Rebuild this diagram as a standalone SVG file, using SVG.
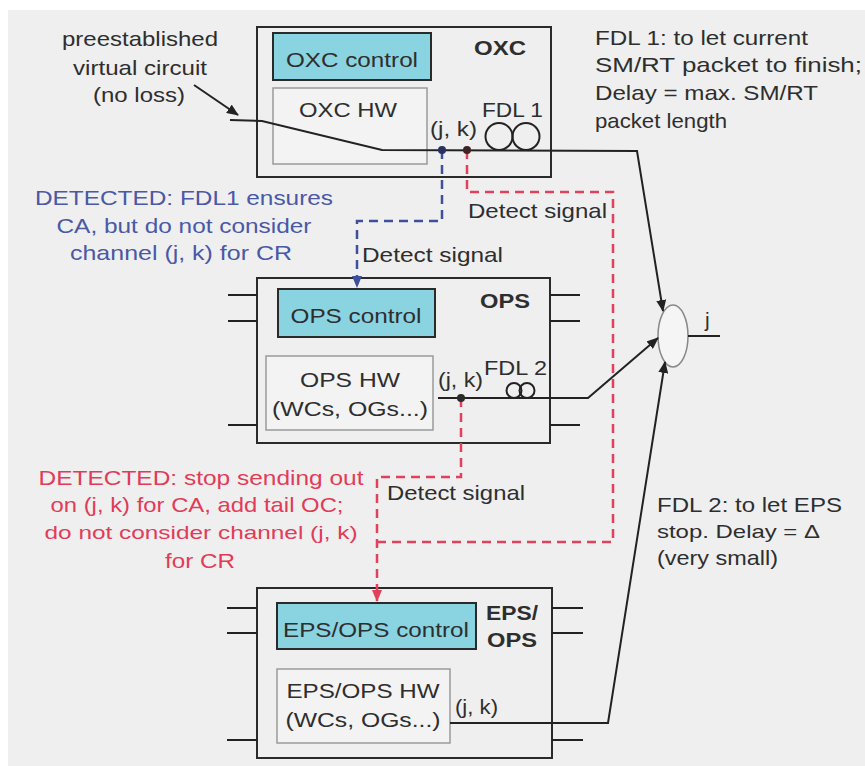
<svg xmlns="http://www.w3.org/2000/svg" width="865" height="766" viewBox="0 0 865 766">
<defs>
<style>
text{font-family:"Liberation Sans",Arial,sans-serif;font-size:21px;fill:#2e2e2e}
.c{text-anchor:middle}
.b{font-weight:bold}
.blue{fill:#4a58a6}
.red{fill:#e23b58}
.box{fill:none;stroke:#2a2a2a;stroke-width:2}
.ctl{fill:#8ad3e1;stroke:#2a2a2a;stroke-width:2}
.hw{fill:#f3f3f3;stroke:#9a9a9a;stroke-width:1.5}
.ln{fill:none;stroke:#222;stroke-width:2}
.db{fill:none;stroke:#3f4f9c;stroke-width:2.5;stroke-dasharray:9 6}
.dr{fill:none;stroke:#e2415c;stroke-width:2.5;stroke-dasharray:9 6}
</style>
<marker id="ak" markerWidth="12" markerHeight="10" refX="11" refY="5" orient="auto" markerUnits="userSpaceOnUse"><path d="M0,0 L12,5 L0,10 z" fill="#222"/></marker>
<marker id="ab" markerWidth="12" markerHeight="10" refX="11" refY="5" orient="auto" markerUnits="userSpaceOnUse"><path d="M0,0 L12,5 L0,10 z" fill="#3f4f9c"/></marker>
<marker id="ar" markerWidth="12" markerHeight="10" refX="11" refY="5" orient="auto" markerUnits="userSpaceOnUse"><path d="M0,0 L12,5 L0,10 z" fill="#e2415c"/></marker>
</defs>
<rect x="0" y="0" width="865" height="766" fill="#ffffff"/>
<rect x="8" y="10" width="857" height="756" fill="#efefef"/>

<g id="oxc">
<rect class="box" x="257" y="27" width="294" height="150"/>
<rect class="ctl" x="273" y="33" width="158" height="47"/>
<text class="c" x="352" y="67" textLength="132" lengthAdjust="spacingAndGlyphs">OXC control</text>
<text class="c b" x="500" y="55" textLength="52" lengthAdjust="spacingAndGlyphs">OXC</text>
<rect class="hw" x="273" y="88" width="154" height="76"/>
<text class="c" x="348" y="117" textLength="98" lengthAdjust="spacingAndGlyphs">OXC HW</text>
<text x="482" y="117" textLength="61" lengthAdjust="spacingAndGlyphs">FDL 1</text>
<text x="430" y="136" textLength="47" lengthAdjust="spacingAndGlyphs">(j, k)</text>
<circle cx="499" cy="136.5" r="13.5" fill="none" stroke="#222" stroke-width="2"/>
<circle cx="526" cy="136.5" r="13.5" fill="none" stroke="#222" stroke-width="2"/>
</g>

<g id="ops">
<rect class="box" x="257" y="278" width="293" height="165"/>
<rect class="ctl" x="278" y="289" width="157" height="48"/>
<text class="c" x="356" y="323" textLength="131" lengthAdjust="spacingAndGlyphs">OPS control</text>
<text class="c b" x="505" y="308" textLength="50" lengthAdjust="spacingAndGlyphs">OPS</text>
<rect class="hw" x="266" y="356" width="167" height="74"/>
<text class="c" x="350" y="387" textLength="100" lengthAdjust="spacingAndGlyphs">OPS HW</text>
<text class="c" x="350" y="416" textLength="156" lengthAdjust="spacingAndGlyphs">(WCs, OGs...)</text>
<text x="438" y="387" textLength="45" lengthAdjust="spacingAndGlyphs">(j, k)</text>
<text x="484" y="375" textLength="63" lengthAdjust="spacingAndGlyphs">FDL 2</text>
<circle cx="514" cy="390.5" r="7.5" fill="none" stroke="#222" stroke-width="2"/>
<circle cx="527" cy="390.5" r="7.5" fill="none" stroke="#222" stroke-width="2"/>
<path class="ln" d="M228,295 H257 M228,321 H257 M228,425 H257 M550,295 H580 M550,321 H580 M550,425 H580"/>
</g>

<g id="eps">
<rect class="box" x="257" y="588" width="295" height="170"/>
<rect class="ctl" x="277" y="603" width="199" height="46"/>
<text class="c" x="376" y="637" textLength="186" lengthAdjust="spacingAndGlyphs">EPS/OPS control</text>
<text class="c b" x="512" y="620" textLength="52" lengthAdjust="spacingAndGlyphs">EPS/</text>
<text class="c b" x="512" y="647" textLength="50" lengthAdjust="spacingAndGlyphs">OPS</text>
<rect class="hw" x="277" y="669" width="173" height="74"/>
<text class="c" x="363" y="698" textLength="153" lengthAdjust="spacingAndGlyphs">EPS/OPS HW</text>
<text class="c" x="363" y="727" textLength="155" lengthAdjust="spacingAndGlyphs">(WCs, OGs...)</text>
<text x="455" y="714" textLength="43" lengthAdjust="spacingAndGlyphs">(j, k)</text>
<path class="ln" d="M227,608 H257 M227,633 H257 M227,740 H257 M552,608 H583 M552,633 H583 M552,740 H583"/>
</g>

<g id="combiner">
<ellipse cx="673" cy="336" rx="15" ry="31" fill="#f5f5f5" stroke="#888" stroke-width="1.5"/>
<path class="ln" d="M688,336 H720"/>
<text x="705" y="327">j</text>
</g>

<g id="notes">
<text class="c" x="140" y="46" textLength="156" lengthAdjust="spacingAndGlyphs">preestablished</text>
<text class="c" x="140" y="75" textLength="134" lengthAdjust="spacingAndGlyphs">virtual circuit</text>
<text class="c" x="139" y="102" textLength="92" lengthAdjust="spacingAndGlyphs">(no loss)</text>
<text x="595" y="45" textLength="213" lengthAdjust="spacingAndGlyphs">FDL 1: to let current</text>
<text x="595" y="72" textLength="267" lengthAdjust="spacingAndGlyphs">SM/RT packet to finish;</text>
<text x="595" y="100" textLength="223" lengthAdjust="spacingAndGlyphs">Delay = max. SM/RT</text>
<text x="595" y="128" textLength="132" lengthAdjust="spacingAndGlyphs">packet length</text>
<text class="c blue" x="184" y="205" textLength="298" lengthAdjust="spacingAndGlyphs">DETECTED: FDL1 ensures</text>
<text class="c blue" x="184" y="233" textLength="255" lengthAdjust="spacingAndGlyphs">CA, but do not consider</text>
<text class="c blue" x="181" y="260" textLength="222" lengthAdjust="spacingAndGlyphs">channel (j, k) for CR</text>
<text x="468" y="218" textLength="139" lengthAdjust="spacingAndGlyphs">Detect signal</text>
<text x="362" y="262" textLength="141" lengthAdjust="spacingAndGlyphs">Detect signal</text>
<text x="387" y="500" textLength="138" lengthAdjust="spacingAndGlyphs">Detect signal</text>
<text class="c red" x="201" y="485" textLength="325" lengthAdjust="spacingAndGlyphs">DETECTED: stop sending out</text>
<text class="c red" x="197" y="512" textLength="293" lengthAdjust="spacingAndGlyphs">on (j, k) for CA, add tail OC;</text>
<text class="c red" x="201" y="539" style="font-size:19px" textLength="313" lengthAdjust="spacingAndGlyphs">do not consider channel (j, k)</text>
<text class="c red" x="200" y="568" textLength="70" lengthAdjust="spacingAndGlyphs">for CR</text>
<text x="657" y="512" textLength="185" lengthAdjust="spacingAndGlyphs">FDL 2: to let EPS</text>
<text x="657" y="538" style="font-size:19px" textLength="163" lengthAdjust="spacingAndGlyphs">stop. Delay = Δ</text>
<text x="657" y="565" textLength="121" lengthAdjust="spacingAndGlyphs">(very small)</text>
</g>

<g id="connectors">
<path class="ln" d="M194,85 L238,115" marker-end="url(#ak)"/>
<path class="ln" d="M230,120 L262,121 L382,150 L637,151 L663,311" marker-end="url(#ak)"/>
<path class="ln" d="M438,398 L588,398 L658,338" marker-end="url(#ak)"/>
<path class="ln" d="M450,723 L608,723 L665,362" marker-end="url(#ak)"/>
<path class="db" d="M442,150 V221 H357 V287" marker-end="url(#ab)"/>
<path class="dr" d="M467,150 V192 H613 V542 H377"/>
<path class="dr" d="M461,398 V477 H377 V601" marker-end="url(#ar)"/>
<circle cx="442" cy="150" r="4" fill="#2a3060"/>
<circle cx="467" cy="150" r="4" fill="#402424"/>
<circle cx="461" cy="398" r="4" fill="#2a2a2a"/>
</g>
</svg>
